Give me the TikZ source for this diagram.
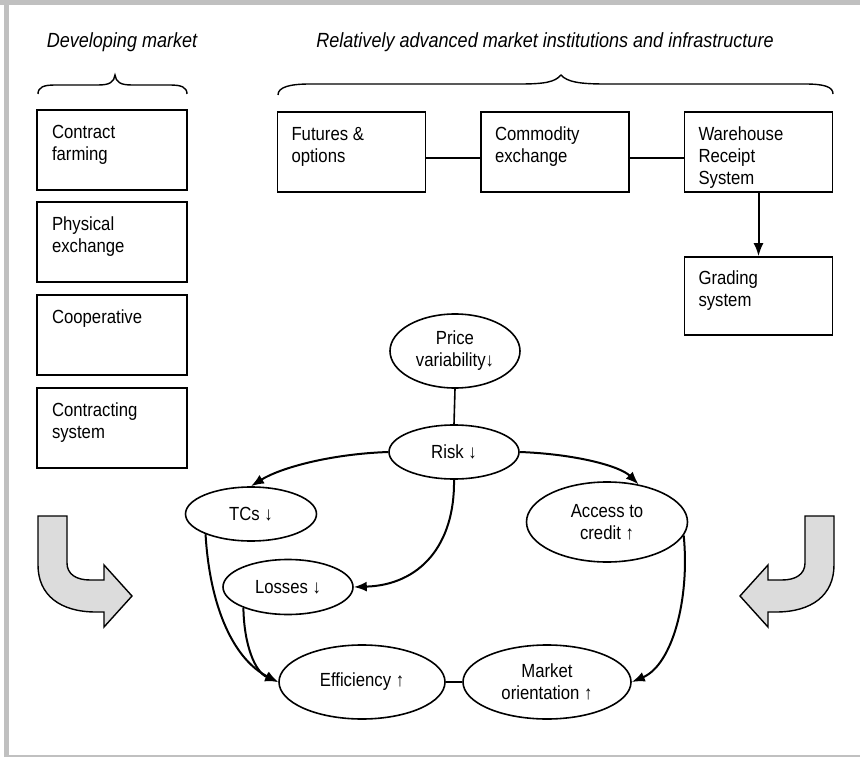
\documentclass[tikz,border=0pt]{standalone}
\usepackage{fontspec}
\setmainfont{Liberation Sans}[FakeStretch=0.88]
\usetikzlibrary{shapes.geometric,arrows.meta}
\definecolor{framegray}{HTML}{C0C0C0}
\definecolor{arrowfill}{HTML}{DCDCDC}
% text block placed at the top of a box
\newcommand\boxlines[1]{\begin{minipage}[c][50pt][t]{120pt}\raggedright #1\end{minipage}}
\begin{document}
\begin{tikzpicture}[x=1pt,y=-1pt,
  every node/.style={font=\fontsize{19}{22}\selectfont},
  mbox/.style={draw, line width=1.6pt, minimum width=150pt, minimum height=80pt, inner sep=0pt},
  oval/.style={draw, ellipse, line width=1.6pt, inner sep=0pt, align=center},
  heading/.style={font=\fontsize{20.5}{22}\selectfont\itshape},
  link/.style={line width=1.6pt},
  flow/.style={line width=2pt, -{Latex[length=13pt,width=10pt]}},
  uturn/.style={fill=arrowfill, draw=black, line width=1.4pt, line join=miter}]
\useasboundingbox (0,0) rectangle (860,757);

% frame
\fill[framegray] (0,0) rectangle (860,5);
\fill[framegray] (4,0) rectangle (9,757);
\fill[framegray] (4,755) rectangle (860,757);

% headings
\node[heading] (hdev) at (122,42) {Developing market};
\node[heading] (hadv) at (545,42) {Relatively advanced market institutions and infrastructure};

% braces
\draw[line width=1.4pt] (38,94) .. controls (38,87) and (44,85) .. (55,85) -- (98,85)
  .. controls (110,85) and (114,82) .. (115,75) .. controls (116,82) and (120,85) .. (132,85)
  -- (170,85) .. controls (181,85) and (187,87) .. (187,94);
\draw[line width=1.4pt] (278,95) .. controls (278,87) and (290,84) .. (310,84) -- (520,84)
  .. controls (545,84) and (555,82) .. (561,75) .. controls (567,82) and (580,84) .. (605,84)
  -- (805,84) .. controls (825,84) and (833,87) .. (833,94);

% developing-market institutions
\node[mbox] (cf) at (112,150) {\boxlines{Contract\\farming}};
\node[mbox] (pe) at (112,242) {\boxlines{Physical\\exchange}};
\node[mbox] (coop) at (112,335) {\boxlines{Cooperative}};
\node[mbox] (cs) at (112,428) {\boxlines{Contracting\\system}};

% advanced institutions
\node[mbox, minimum width=148pt] (fut) at (351.5,152) {\boxlines{Futures \&\\options}};
\node[mbox, minimum width=148pt] (ce) at (555,152) {\boxlines{Commodity\\exchange}};
\node[mbox, minimum width=148pt] (wrs) at (758.5,152) {\boxlines{Warehouse\\Receipt\\System}};
\node[mbox, minimum width=148pt, minimum height=78pt] (gs) at (758.5,296) {\boxlines{Grading\\system}};

\draw[link] ([yshift=-6pt]fut.east) -- ([yshift=-6pt]ce.west);
\draw[link] ([yshift=-6pt]ce.east) -- ([yshift=-6pt]wrs.west);
\draw[flow] (wrs.south) -- (gs.north);

% effects
\node[oval, minimum width=130pt, minimum height=74pt] (pv) at (455,351) {Price\\variability↓};
\node[oval, minimum width=130pt, minimum height=54pt] (risk) at (454,452) {Risk ↓};
\node[oval, minimum width=131pt, minimum height=54pt] (tcs) at (251,514) {TCs ↓};
\node[oval, minimum width=130pt, minimum height=55pt] (loss) at (288,587) {Losses ↓};
\node[oval, minimum width=161pt, minimum height=80pt] (acc) at (607,522) {Access to\\credit ↑};
\node[oval, minimum width=166pt, minimum height=74pt] (eff) at (362,682) {Efficiency ↑};
\node[oval, minimum width=168pt, minimum height=74pt] (mo) at (547,682) {Market\\orientation ↑};

\draw[link] (pv.south) -- (risk.north);
\draw[link] (eff.east) -- (mo.west);
\draw[flow] (risk.west) .. controls (330,454) and (280,468) .. (tcs.north);
\draw[flow] (risk.east) .. controls (575,454) and (620,466) .. (acc.50);
\draw[flow] (risk.south) .. controls (455,545) and (420,585) .. (loss.east);
\draw[flow] (tcs.204) .. controls (210,610) and (235,660) .. (eff.west);
\draw[flow] (loss.205) .. controls (244,645) and (255,672) .. (eff.west);
\draw[flow] (acc.-10) .. controls (690,600) and (672,665) .. (mo.east);

% turning arrows
\draw[uturn] (38,516) -- (67,516) -- (67,563) .. controls (67,574) and (76,580) .. (90,580)
  -- (104,580) -- (104,565) -- (132,596) -- (104,627) -- (104,612) -- (96,612)
  .. controls (60,612) and (38,595) .. (38,565) -- cycle;
\draw[uturn] (834,516) -- (805,516) -- (805,563) .. controls (805,574) and (796,580) .. (782,580)
  -- (768,580) -- (768,565) -- (740,596) -- (768,627) -- (768,612) -- (776,612)
  .. controls (812,612) and (834,595) .. (834,565) -- cycle;
\end{tikzpicture}
\end{document}
